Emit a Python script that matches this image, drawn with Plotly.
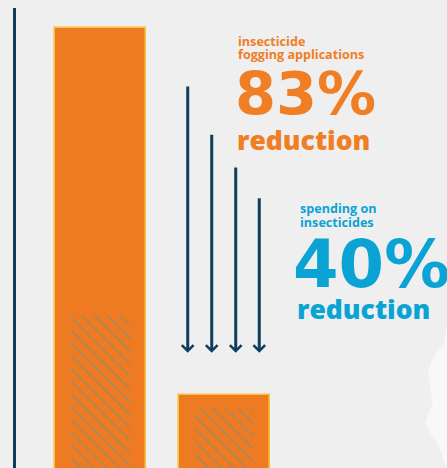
import plotly.graph_objects as go

# ---- data ----
periods = ["before", "after"]
fogging_index = [100, 17]          # insecticide fogging applications (index)
spending_index = [35, 14]          # hatched portion
arrow_tops = [87.1, 76.2, 68.8, 61.8]
arrow_bottom = 26.5
labels_fog = ["insecticide", "fogging applications"]
labels_spend = ["spending on", "insecticides"]
fog_pct = "83%"
spend_pct = "40%"
reduction_word = "reduction"

W, H = 447, 468
ML, MT = 16, 8
PW, PH = W - ML, H - MT

ORANGE = "#EE7A22"
ORANGE_TXT = "#F07E24"
BLUE_TXT = "#0AA3D3"
NAVY = "#0E3E5B"
BG = "#EFEFEF"

xpos = [0, 1.01]
scale = 122.5
x0 = -(100.5 - ML) / scale
x1 = x0 + PW / scale
ymin = 0.45
ymax = 104.52

fig = go.Figure()
fig.add_trace(go.Bar(
    x=xpos, y=fogging_index, width=0.743,
    marker=dict(color=ORANGE, line=dict(color="#F8C13C", width=1.6)),
    hoverinfo="skip", showlegend=False,
))
fig.add_trace(go.Bar(
    x=xpos, y=spending_index, width=0.475,
    marker=dict(color=ORANGE, line=dict(width=0),
                pattern=dict(shape="\\", fgcolor="#3C9DB8", fgopacity=0.6,
                             size=9, solidity=0.13)),
    hoverinfo="skip", showlegend=False,
))

def px(xp):
    return (xp - ML) / PW

def py(yp):
    return (H - yp) / PH

ann = []
arrow_x = [0.712, 0.908, 1.104, 1.296]
for ax_, top in zip(arrow_x, arrow_tops):
    ann.append(dict(x=ax_, y=arrow_bottom, ax=ax_, ay=top, xref="x", yref="y",
                    axref="x", ayref="y", showarrow=True, arrowhead=4,
                    arrowsize=0.75, arrowwidth=3, arrowcolor=NAVY, text=""))

def txt(t, xpix, ypix, size, color, family, weight=700):
    ann.append(dict(text=t, x=px(xpix), y=py(ypix), xref="paper", yref="paper",
                    xanchor="left", yanchor="middle", showarrow=False,
                    font=dict(size=size, color=color, family=family, weight=weight)))

txt(labels_fog[0], 236, 41.5, 12.6, ORANGE_TXT, "Open Sans")
txt(labels_fog[1], 236, 54.5, 12.6, ORANGE_TXT, "Open Sans")
txt(fog_pct, 233, 93.5, 59, ORANGE_TXT, "DejaVu Sans")
txt(reduction_word, 235, 140, 26.5, ORANGE_TXT, "Open Sans", 800)

txt(labels_spend[0], 298, 208, 12.6, BLUE_TXT, "Open Sans")
txt(labels_spend[1], 298, 222.5, 12.6, BLUE_TXT, "Open Sans")
txt(spend_pct, 290.5, 263.5, 65.5, BLUE_TXT, "DejaVu Sans")
txt(reduction_word, 295, 309, 26.5, BLUE_TXT, "Open Sans", 800)

# decorative torn-paper patch at bottom right
blob = [(447, 328), (444, 345), (437, 352), (432, 360), (428, 372), (430, 388),
        (433, 402), (428, 414), (425, 424), (431, 434), (437, 442), (441, 452),
        (444, 462), (447, 468)]
path = "M " + " L ".join(f"{px(a):.4f},{py(b):.4f}" for a, b in blob) + " Z"
shapes = [dict(type="path", path=path, xref="paper", yref="paper",
               fillcolor="#F8F8F8", line=dict(width=0), layer="below")]

fig.update_layout(
    width=W, height=H,
    margin=dict(l=ML, r=0, t=MT, b=0, pad=0),
    paper_bgcolor=BG, plot_bgcolor="rgba(0,0,0,0)",
    barmode="overlay", bargap=0,
    xaxis=dict(range=[x0, x1], showgrid=False, zeroline=False, showticklabels=False,
               showline=False, ticks=""),
    yaxis=dict(range=[ymin, ymax], showgrid=False, zeroline=False, showticklabels=False,
               showline=True, linecolor=NAVY, linewidth=3, ticks=""),
    annotations=ann,
    shapes=shapes,
)

fig.write_html(
    "out.html",
    config={"displayModeBar": False},
    post_script="document.body.style.margin='0';document.body.style.padding='0';"
                "document.body.style.background='#EFEFEF';"
                "document.body.style.overflow='hidden';",
)
